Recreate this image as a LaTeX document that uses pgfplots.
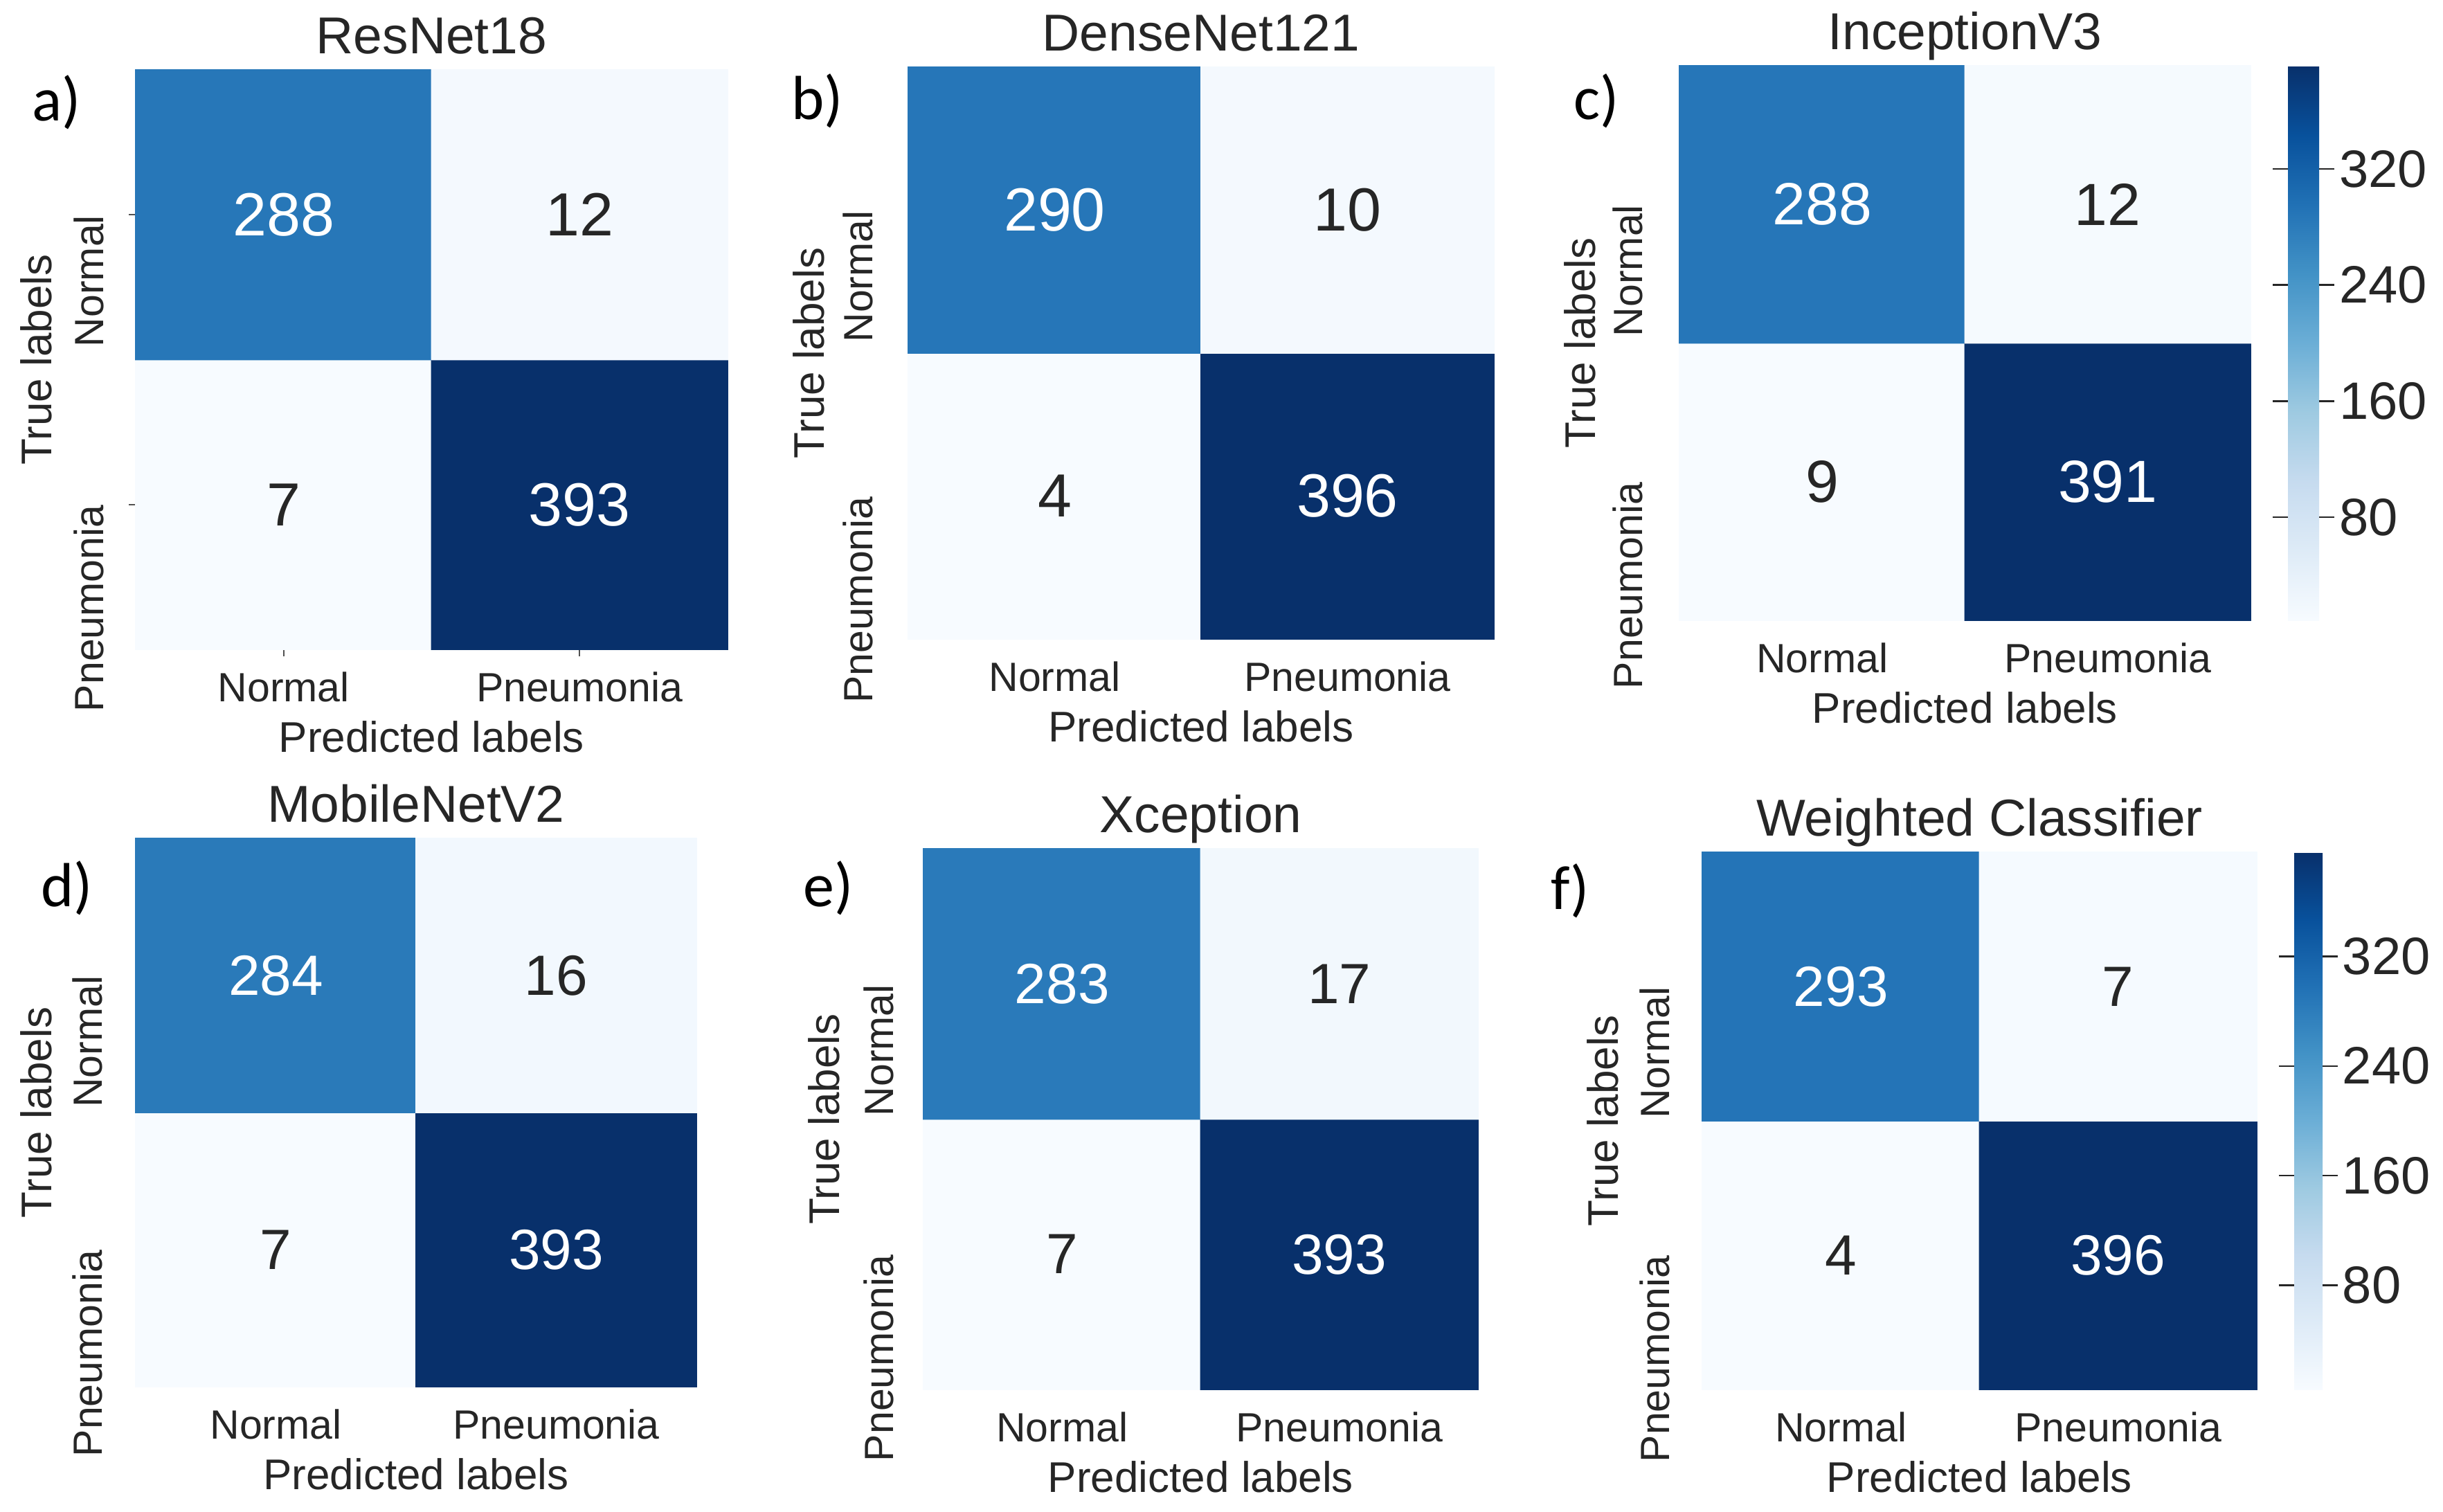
\documentclass[border=0pt]{standalone}
\usepackage{pgfplots}
\pgfplotsset{compat=1.18}
\usepackage{fontspec}
\setmainfont{Liberation Sans}
\newfontfamily\calfont{Carlito}
\definecolor{txt}{HTML}{262626}

\pgfplotsset{
  colormap={blues}{rgb255=(247,251,255) rgb255=(222,235,247) rgb255=(198,219,239)
    rgb255=(158,202,225) rgb255=(107,174,214) rgb255=(66,146,198) rgb255=(33,113,181)
    rgb255=(8,81,156) rgb255=(8,48,107)},
  cm/.style={
    scale only axis, anchor=north west,
    xmin=-0.5, xmax=1.5, ymin=-0.5, ymax=1.5,
    axis line style={draw=none}, tick style={draw=none},
    xtick={0,1}, ytick={0,1},
    xticklabels={Normal,Pneumonia}, yticklabels={Pneumonia,Normal},
    xticklabel style={font=\fontsize{14.75}{16}\selectfont, text=txt, anchor=base, yshift=-18.75pt},
    yticklabel style={font=\fontsize{14.75}{16}\selectfont, text=txt, rotate=90, anchor=south east, inner xsep=0pt, inner ysep=#1},
    xlabel={Predicted labels}, ylabel={True labels},
    xlabel style={at={(axis description cs:0.5,0)}, anchor=base, yshift=-37pt, font=\fontsize{15.5}{17}\selectfont, text=txt},
    ylabel style={at={(axis description cs:0,0.5)}, anchor=south, inner xsep=0pt, inner ysep=30pt, font=\fontsize{15.5}{17}\selectfont, text=txt},
    title style={at={(axis description cs:0.5,1)}, anchor=base, font=\fontsize{18.75}{20}\selectfont, text=txt},
    colormap name=blues, clip=false,
  },
  cm/.default=11.5pt,
  cbar/.style={colorbar, colorbar style={at={(parent axis.north east)}, anchor=north west, xshift=5pt,
    scale only axis, width=#1, ytick={80,160,240,320}, axis line style={draw=none},
    ytick style={draw=txt, line width=0.6pt}, major tick length=5.5pt, tick align=outside,
    /pgf/number format/assume math mode=true,
    yticklabel style={font=\fontsize{19}{20}\selectfont, text=txt, inner xsep=1.5pt}}},
  hi/.style={draw=none, mark=none, nodes near coords, nodes near coords align=center, point meta=explicit symbolic,
    nodes near coords style={anchor=center, text=white, font=\fontsize{#1}{#1}\selectfont}},
  lo/.style={draw=none, mark=none, nodes near coords, nodes near coords align=center, point meta=explicit symbolic,
    nodes near coords style={anchor=center, text=txt, font=\fontsize{#1}{#1}\selectfont}},
}

\begin{document}
\begin{tikzpicture}
\useasboundingbox (0,0) rectangle (882.25pt,-545.75pt);

% a) ResNet18
\begin{axis}[cm=11.25pt, at={(49pt,-25.25pt)}, width=213.75pt, height=209.25pt, title={ResNet18},
  point meta min=7, point meta max=393,
  tick style={draw=txt!80, line width=0.5pt}, major tick length=2.5pt, tick align=outside,
  xtick pos=left, ytick pos=left,
  xticklabel style={yshift=2.5pt}, yticklabel style={inner ysep=8.75pt}]
\addplot[matrix plot*, mesh/cols=2, point meta=explicit] table[meta=c] {
x y c
0 0 7
1 0 393
0 1 288
1 1 12
};
\addplot[hi=22] table[meta=t] {
x y t
0 1 288
1 0 393
};
\addplot[lo=22] table[meta=t] {
x y t
1 1 12
0 0 7
};
\end{axis}

% b) DenseNet121
\begin{axis}[cm=12.5pt, at={(328pt,-24.25pt)}, width=211.5pt, height=206.5pt, title={DenseNet121},
  point meta min=4, point meta max=396]
\addplot[matrix plot*, mesh/cols=2, point meta=explicit] table[meta=c] {
x y c
0 0 4
1 0 396
0 1 290
1 1 10
};
\addplot[hi=22] table[meta=t] {
x y t
0 1 290
1 0 396
};
\addplot[lo=22] table[meta=t] {
x y t
1 1 10
0 0 4
};
\end{axis}

% c) InceptionV3
\begin{axis}[cm=13pt, at={(606.5pt,-23.75pt)}, width=206.25pt, height=200.25pt, title={InceptionV3},
  point meta min=9, point meta max=391, cbar=11.25pt]
\addplot[matrix plot*, mesh/cols=2, point meta=explicit] table[meta=c] {
x y c
0 0 9
1 0 391
0 1 288
1 1 12
};
\addplot[hi=21.5] table[meta=t] {
x y t
0 1 288
1 0 391
};
\addplot[lo=21.5] table[meta=t] {
x y t
1 1 12
0 0 9
};
\end{axis}

% d) MobileNetV2
\begin{axis}[cm=11.75pt, at={(49pt,-302.75pt)}, width=202.5pt, height=198pt, title={MobileNetV2},
  point meta min=7, point meta max=393]
\addplot[matrix plot*, mesh/cols=2, point meta=explicit] table[meta=c] {
x y c
0 0 7
1 0 393
0 1 284
1 1 16
};
\addplot[hi=20.5] table[meta=t] {
x y t
0 1 284
1 0 393
};
\addplot[lo=20.5] table[meta=t] {
x y t
1 1 16
0 0 7
};
\end{axis}

% e) Xception
\begin{axis}[cm=10.5pt, at={(333.5pt,-306.5pt)}, width=200.25pt, height=195.25pt, title={Xception},
  point meta min=7, point meta max=393]
\addplot[matrix plot*, mesh/cols=2, point meta=explicit] table[meta=c] {
x y c
0 0 7
1 0 393
0 1 283
1 1 17
};
\addplot[hi=20.5] table[meta=t] {
x y t
0 1 283
1 0 393
};
\addplot[lo=20.5] table[meta=t] {
x y t
1 1 17
0 0 7
};
\end{axis}

% f) Weighted Classifier
\begin{axis}[cm=11.5pt, at={(614.75pt,-307.75pt)}, width=200.25pt, height=194pt, title={Weighted Classifier},
  point meta min=4, point meta max=396, cbar=10.25pt]
\addplot[matrix plot*, mesh/cols=2, point meta=explicit] table[meta=c] {
x y c
0 0 4
1 0 396
0 1 293
1 1 7
};
\addplot[hi=20.5] table[meta=t] {
x y t
0 1 293
1 0 396
};
\addplot[lo=20.5] table[meta=t] {
x y t
1 1 7
0 0 4
};
\end{axis}

% panel letters
\begin{scope}[every node/.style={font=\calfont\fontsize{22.5}{24}\selectfont}]
\node at (20.5pt,-37pt) {a)};
\node at (295.25pt,-36.5pt) {b)};
\node at (576.5pt,-36.5pt) {c)};
\node at (24.25pt,-320.75pt) {d)};
\node at (299.25pt,-320.75pt) {e)};
\node at (567pt,-321.75pt) {f)};
\end{scope}
\end{tikzpicture}
\end{document}
